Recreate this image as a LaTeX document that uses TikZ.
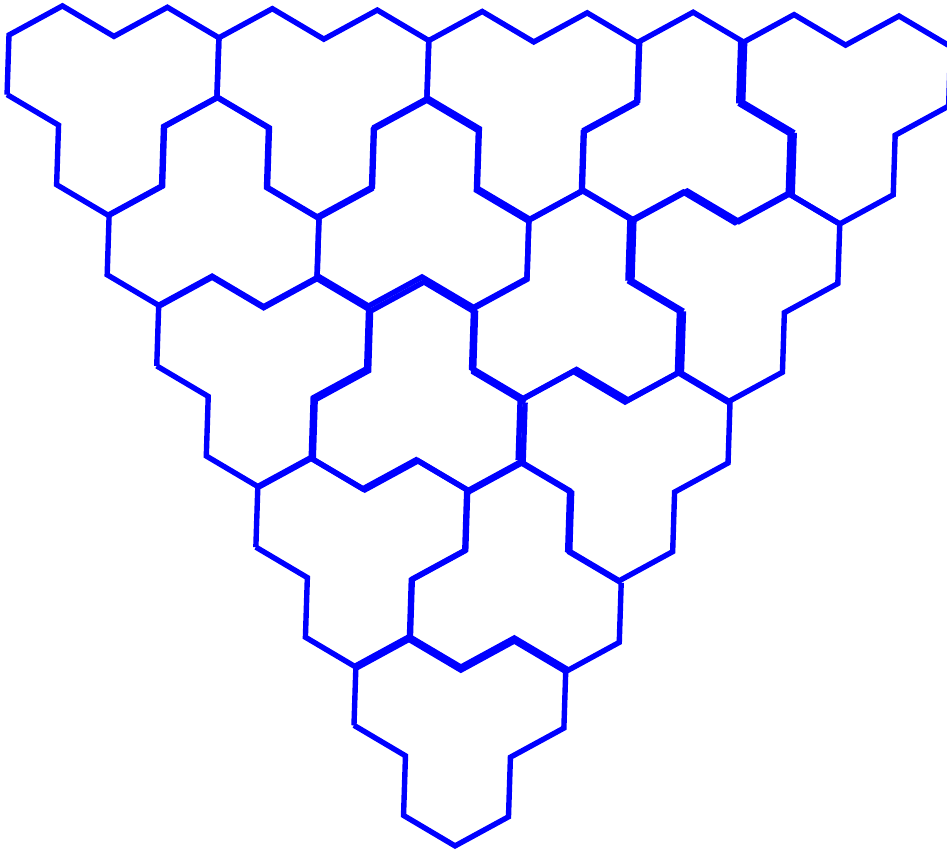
\documentclass[tikz,border=0pt]{standalone}
\definecolor{tileblue}{RGB}{0,0,255}
\tikzset{
  tile/.style={draw=tileblue, line width=5.4pt, line join=miter},
}
% down tile: hexes (c,r),(c+1,r),(c,r+1); #1 extra options
\newcommand\downtile[3][]{%
  \draw[tile, shift={(#2,#3)}, #1] (-2/3,1/3) -- (-1/3,2/3) -- (-2/3,4/3) -- (-1/3,5/3) -- (1/3,4/3) -- (2/3,2/3) -- (4/3,1/3) -- (5/3,-1/3) -- (4/3,-2/3) -- (2/3,-1/3) -- (1/3,-2/3) -- (-1/3,-1/3) -- (-2/3,1/3);
}
% up tile: hexes (c,r),(c-1,r+1),(c,r+1)
\newcommand\uptile[3][]{%
  \draw[tile, shift={(#2,#3)}, #1] (2/3,2/3) -- (1/3,1/3) -- (2/3,-1/3) -- (1/3,-2/3) -- (-1/3,-1/3) -- (-2/3,1/3) -- (-4/3,2/3) -- (-5/3,4/3) -- (-4/3,5/3) -- (-2/3,4/3) -- (-1/3,5/3) -- (1/3,4/3) -- (2/3,2/3);
}
\begin{document}
\begin{tikzpicture}
\useasboundingbox (0pt,0pt) rectangle (947pt,-851pt);
\clip (0pt,0pt) rectangle (947pt,-851pt);
\begin{scope}[shift={(60.5pt,-65.5pt)}, x={(104.95pt,-1.39pt)}, y={(49.56pt,-90.1pt)}]
  % first row of down tiles
  \downtile{0}{0}
  \downtile{2}{0}
  \downtile{4}{0}
  \downtile[shift={(-3pt,1pt)}]{7}{0}
  % up tiles between them
  \uptile[shift={(1pt,0pt)}]{1}{1}
  \uptile[shift={(1pt,2pt)}]{3}{1}
  \uptile[shift={(1pt,2pt)}]{6}{0}
  % middle
  \downtile[shift={(-3pt,1pt)}]{5}{2}
  \uptile[shift={(1pt,1pt)}]{4}{2}
  \downtile[shift={(1pt,-1pt)}]{0}{3}
  \uptile[shift={(3pt,-3pt)}]{2}{3}
  \downtile[shift={(-2pt,-1pt)}]{3}{4}
  \downtile[shift={(1pt,-2pt)}]{0}{5}
  \uptile[shift={(0pt,-3pt)}]{2}{5}
  \downtile{0}{7}
\end{scope}
\end{tikzpicture}
\end{document}
